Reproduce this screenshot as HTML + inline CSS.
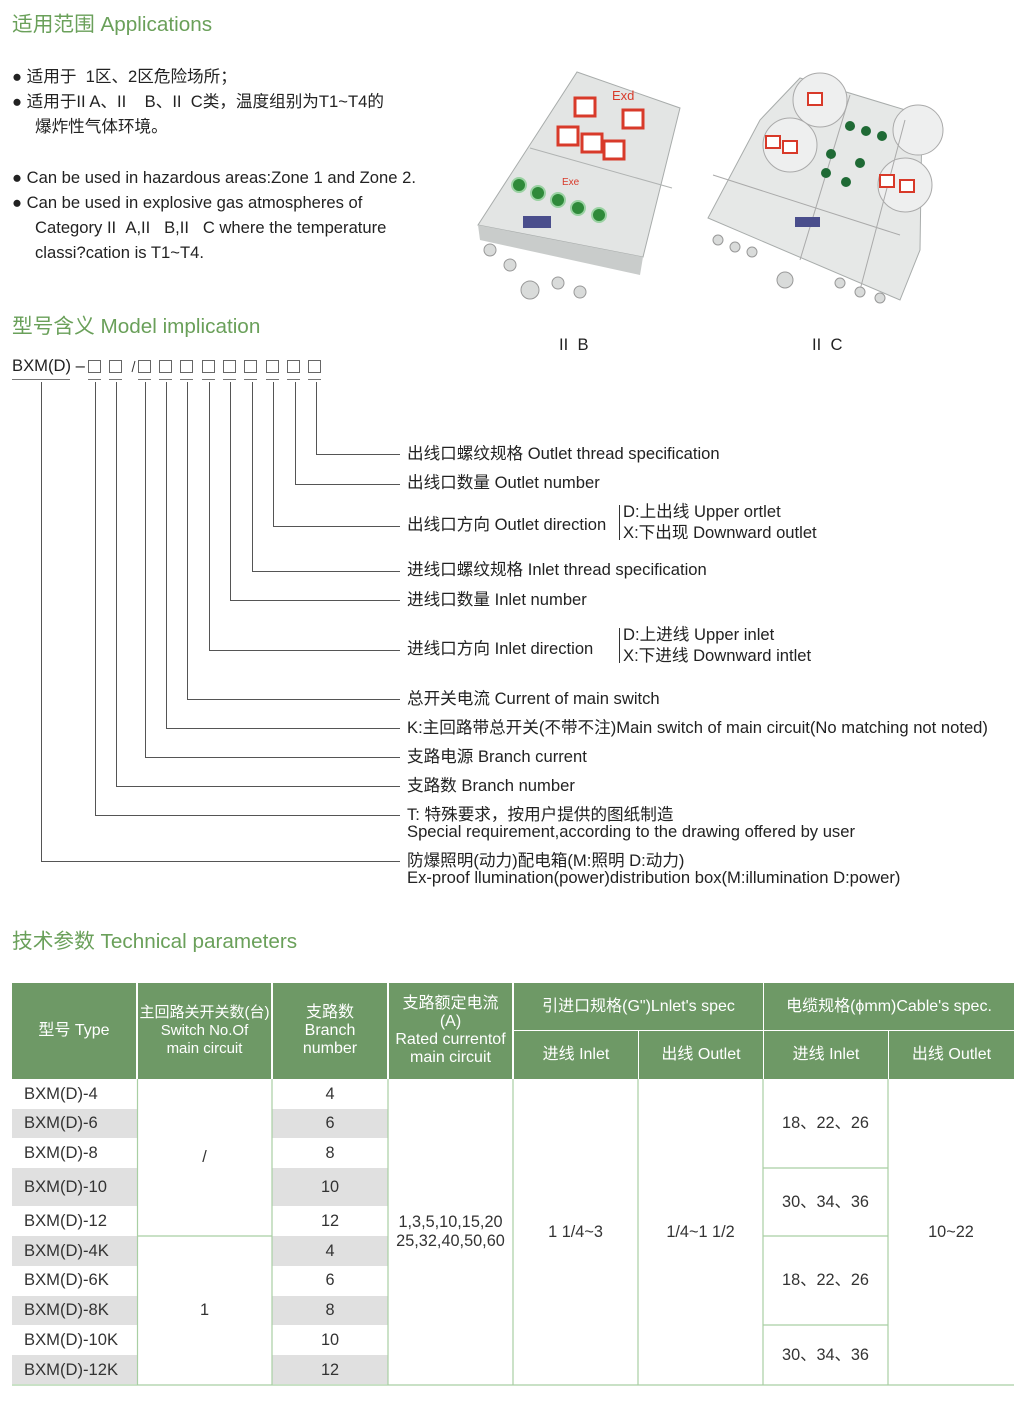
<!DOCTYPE html>
<html><head><meta charset="utf-8"><style>
body{margin:0;background:#fff;}
#p{position:relative;width:1024px;height:1405px;overflow:hidden;font-family:"Liberation Sans","Noto Sans CJK SC",sans-serif;color:#222;}
.t{position:absolute;white-space:nowrap;font-size:16.6px;line-height:18px;}
.h{position:absolute;font-size:20.7px;color:#6aa05a;white-space:nowrap;line-height:24px;}
.c{position:absolute;text-align:center;font-size:16.3px;line-height:19px;color:#333;}
.hd{position:absolute;background:#6e9966;color:#fff;text-align:center;display:flex;align-items:center;justify-content:center;font-size:16px;line-height:18px;}
</style></head><body><div id="p">

<div class="h" style="left:12px;top:13px">适用范围 Applications</div>
<div class="t" style="left:12px;top:68px">● 适用于 &nbsp;1区、2区危险场所；</div>
<div class="t" style="left:12px;top:93px">● 适用于II A、II &nbsp;&nbsp;&nbsp;B、II &nbsp;C类，温度组别为T1~T4的</div>
<div class="t" style="left:35px;top:118px">爆炸性气体环境。</div>
<div class="t" style="left:12px;top:169px">● Can be used in hazardous areas:Zone 1 and Zone 2.</div>
<div class="t" style="left:12px;top:194px">● Can be used in explosive gas atmospheres of</div>
<div class="t" style="left:35px;top:219px">Category II &nbsp;A,II &nbsp;&nbsp;B,II &nbsp;&nbsp;C where the temperature</div>
<div class="t" style="left:35px;top:244px">classi?cation is T1~T4.</div>

<svg style="position:absolute;left:0;top:0" width="1024" height="400">
 <polygon points="577,72 680,108 643,257 478,225" fill="#e3e5e4" stroke="#a8acab"/>
 <polygon points="478,225 643,257 640,275 480,240" fill="#c9cccb"/>
 <line x1="530" y1="148" x2="672" y2="188" stroke="#b0b3b2"/>
 <g fill="#fff" stroke="#d83a2a" stroke-width="3">
  <rect x="575" y="98" width="20" height="18"/><rect x="623" y="110" width="20" height="18"/>
  <rect x="558" y="127" width="20" height="18"/><rect x="582" y="134" width="20" height="18"/><rect x="604" y="141" width="20" height="18"/>
 </g>
 <text x="612" y="100" fill="#d83a2a" font-size="13" font-family="Liberation Sans">Exd</text>
 <text x="562" y="185" fill="#d83a2a" font-size="10" font-family="Liberation Sans">Exe</text>
 <g fill="#2f8a3a" stroke="#9ad2a2" stroke-width="2">
  <circle cx="519" cy="185" r="7"/><circle cx="538" cy="193" r="7"/><circle cx="558" cy="200" r="7"/><circle cx="578" cy="208" r="7"/><circle cx="599" cy="215" r="7"/>
 </g>
 <rect x="523" y="216" width="28" height="12" fill="#4a4e8c"/>
 <g fill="#d9dbda" stroke="#999"><circle cx="490" cy="250" r="6"/><circle cx="510" cy="265" r="6"/><circle cx="530" cy="290" r="9"/><circle cx="558" cy="283" r="6"/><circle cx="580" cy="292" r="6"/></g>
 <polygon points="800,78 922,115 920,250 900,300 708,218 760,120" fill="#e6e8e7" stroke="#a8acab"/>
 <g fill="#eeefef" stroke="#aaa"><circle cx="820" cy="100" r="27"/><circle cx="790" cy="145" r="27"/><circle cx="918" cy="130" r="25"/><circle cx="905" cy="185" r="27"/></g>
 <line x1="713" y1="175" x2="900" y2="235" stroke="#aaa"/><line x1="850" y1="95" x2="800" y2="260" stroke="#aaa"/><line x1="905" y1="120" x2="860" y2="290" stroke="#aaa"/>
 <g fill="#fff" stroke="#d83a2a" stroke-width="2"><rect x="808" y="93" width="14" height="12"/><rect x="766" y="136" width="14" height="12"/><rect x="783" y="141" width="14" height="12"/><rect x="880" y="175" width="14" height="12"/><rect x="900" y="180" width="14" height="12"/></g>
 <g fill="#1f6a35"><circle cx="850" cy="126" r="5"/><circle cx="866" cy="131" r="5"/><circle cx="882" cy="136" r="5"/><circle cx="831" cy="154" r="5"/><circle cx="860" cy="163" r="5"/><circle cx="826" cy="173" r="5"/><circle cx="846" cy="182" r="5"/></g>
 <rect x="795" y="217" width="25" height="10" fill="#4a4e8c"/>
 <g fill="#d9dbda" stroke="#999"><circle cx="718" cy="240" r="5"/><circle cx="735" cy="247" r="5"/><circle cx="752" cy="252" r="5"/><circle cx="785" cy="280" r="8"/><circle cx="840" cy="283" r="5"/><circle cx="860" cy="292" r="5"/><circle cx="880" cy="298" r="5"/></g>
</svg>
<div class="t" style="left:559px;top:336px">II &nbsp;B</div>
<div class="t" style="left:812px;top:336px">II &nbsp;C</div>

<div class="h" style="left:12px;top:315px">型号含义 Model implication</div>
<div class="t" style="left:12px;top:357px">BXM(D) –</div>
<svg style="position:absolute;left:0;top:0" width="1024" height="900" fill="none" stroke="#555" stroke-width="1">
 <g stroke="#666"><rect x="88.5" y="360.5" width="12" height="12"/><rect x="109.5" y="360.5" width="12" height="12"/>
 <rect x="138.5" y="360.5" width="12" height="12"/><rect x="159.5" y="360.5" width="12" height="12"/><rect x="180.5" y="360.5" width="12" height="12"/><rect x="202.5" y="360.5" width="12" height="12"/><rect x="223.5" y="360.5" width="12" height="12"/><rect x="244.5" y="360.5" width="12" height="12"/><rect x="266.5" y="360.5" width="12" height="12"/><rect x="287.5" y="360.5" width="12" height="12"/><rect x="308.5" y="360.5" width="12" height="12"/></g>
 <line x1="132" y1="372" x2="135" y2="361" stroke="#333"/>
 <g stroke="#777"><line x1="12" y1="379.5" x2="70" y2="379.5"/>
 <line x1="88" y1="379.5" x2="101" y2="379.5"/><line x1="109" y1="379.5" x2="122" y2="379.5"/><line x1="138" y1="379.5" x2="151" y2="379.5"/><line x1="159" y1="379.5" x2="172" y2="379.5"/><line x1="180" y1="379.5" x2="193" y2="379.5"/><line x1="202" y1="379.5" x2="215" y2="379.5"/><line x1="223" y1="379.5" x2="236" y2="379.5"/><line x1="244" y1="379.5" x2="257" y2="379.5"/><line x1="266" y1="379.5" x2="279" y2="379.5"/><line x1="287" y1="379.5" x2="300" y2="379.5"/><line x1="308" y1="379.5" x2="321" y2="379.5"/></g>
 <polyline points="316.5,382 316.5,454.5 400,454.5"/>
 <polyline points="295.5,382 295.5,484.5 400,484.5"/>
 <polyline points="273.5,382 273.5,526.5 400,526.5"/>
 <polyline points="252.5,382 252.5,571.5 400,571.5"/>
 <polyline points="230.5,382 230.5,600.5 400,600.5"/>
 <polyline points="209.5,382 209.5,650.5 400,650.5"/>
 <polyline points="187.5,382 187.5,699.5 400,699.5"/>
 <polyline points="166.5,382 166.5,728.5 400,728.5"/>
 <polyline points="145.5,382 145.5,757.5 400,757.5"/>
 <polyline points="116.5,382 116.5,786.5 400,786.5"/>
 <polyline points="95.5,382 95.5,815.5 400,815.5"/>
 <polyline points="41.5,382 41.5,861.5 400,861.5"/>
 <line x1="619.5" y1="505" x2="619.5" y2="540" stroke="#333"/>
 <line x1="619.5" y1="628" x2="619.5" y2="663" stroke="#333"/>
</svg>
<div class="t" style="left:407px;top:445px">出线口螺纹规格 Outlet thread specification</div>
<div class="t" style="left:407px;top:474px">出线口数量 Outlet number</div>
<div class="t" style="left:407px;top:516px">出线口方向 Outlet direction</div>
<div class="t" style="left:623px;top:503px">D:上出线 Upper ortlet</div>
<div class="t" style="left:623px;top:524px">X:下出现 Downward outlet</div>
<div class="t" style="left:407px;top:561px">进线口螺纹规格 Inlet thread specification</div>
<div class="t" style="left:407px;top:591px">进线口数量 Inlet number</div>
<div class="t" style="left:407px;top:640px">进线口方向 Inlet direction</div>
<div class="t" style="left:623px;top:626px">D:上进线 Upper inlet</div>
<div class="t" style="left:623px;top:647px">X:下进线 Downward intlet</div>
<div class="t" style="left:407px;top:690px">总开关电流 Current of main switch</div>
<div class="t" style="left:407px;top:719px">K:主回路带总开关(不带不注)Main switch of main circuit(No matching not noted)</div>
<div class="t" style="left:407px;top:748px">支路电源 Branch current</div>
<div class="t" style="left:407px;top:777px">支路数 Branch number</div>
<div class="t" style="left:407px;top:806px">T: 特殊要求，按用户提供的图纸制造</div>
<div class="t" style="left:407px;top:823px">Special requirement,according to the drawing offered by user</div>
<div class="t" style="left:407px;top:852px">防爆照明(动力)配电箱(M:照明 D:动力)</div>
<div class="t" style="left:407px;top:869px">Ex-proof llumination(power)distribution box(M:illumination D:power)</div>

<div class="h" style="left:12px;top:930px">技术参数 Technical parameters</div>

<div class="hd" style="left:12px;top:983px;width:124px;height:96px">型号 Type</div>
<div class="hd" style="left:138px;top:983px;width:133px;height:96px;font-size:15px">主回路关开关数(台)<br>Switch No.Of<br>main circuit</div>
<div class="hd" style="left:273px;top:983px;width:114px;height:96px">支路数<br>Branch<br>number</div>
<div class="hd" style="left:389px;top:983px;width:123px;height:96px">支路额定电流<br>(A)<br>Rated currentof<br>main circuit</div>
<div class="hd" style="left:514px;top:983px;width:249px;height:47px">引进口规格(G")Lnlet's spec</div>
<div class="hd" style="left:764px;top:983px;width:250px;height:47px">电缆规格(ϕmm)Cable's spec.</div>
<div class="hd" style="left:514px;top:1031px;width:124px;height:48px">进线 Inlet</div>
<div class="hd" style="left:639px;top:1031px;width:124px;height:48px">出线 Outlet</div>
<div class="hd" style="left:764px;top:1031px;width:124px;height:48px">进线 Inlet</div>
<div class="hd" style="left:889px;top:1031px;width:125px;height:48px">出线 Outlet</div>

<svg style="position:absolute;left:0;top:0" width="1024" height="1405">
 <g fill="#e0e0e0">
  <rect x="12" y="1109" width="125" height="29"/><rect x="272" y="1109" width="116" height="29"/>
  <rect x="12" y="1168" width="125" height="38"/><rect x="272" y="1168" width="116" height="38"/>
  <rect x="12" y="1236" width="125" height="30"/><rect x="272" y="1236" width="116" height="30"/>
  <rect x="12" y="1296" width="125" height="29"/><rect x="272" y="1296" width="116" height="29"/>
  <rect x="12" y="1355" width="125" height="29"/><rect x="272" y="1355" width="116" height="29"/>
 </g>
 <g stroke="#a9cfa3" stroke-width="1.2">
  <line x1="137.5" y1="1079" x2="137.5" y2="1385"/><line x1="272" y1="1079" x2="272" y2="1385"/><line x1="388" y1="1079" x2="388" y2="1385"/>
  <line x1="513" y1="1079" x2="513" y2="1385"/><line x1="638" y1="1079" x2="638" y2="1385"/><line x1="763" y1="1079" x2="763" y2="1385"/><line x1="888" y1="1079" x2="888" y2="1385"/>
  <line x1="137" y1="1236" x2="272" y2="1236"/>
  <line x1="763" y1="1168" x2="888" y2="1168"/><line x1="763" y1="1236" x2="888" y2="1236"/><line x1="763" y1="1325" x2="888" y2="1325"/>
  <line x1="12" y1="1385" x2="1014" y2="1385"/>
 </g>
</svg>
<div class="t" style="left:24px;top:1085px;color:#333">BXM(D)-4</div>
<div class="t" style="left:24px;top:1114px;color:#333">BXM(D)-6</div>
<div class="t" style="left:24px;top:1144px;color:#333">BXM(D)-8</div>
<div class="t" style="left:24px;top:1178px;color:#333">BXM(D)-10</div>
<div class="t" style="left:24px;top:1212px;color:#333">BXM(D)-12</div>
<div class="t" style="left:24px;top:1242px;color:#333">BXM(D)-4K</div>
<div class="t" style="left:24px;top:1271px;color:#333">BXM(D)-6K</div>
<div class="t" style="left:24px;top:1301px;color:#333">BXM(D)-8K</div>
<div class="t" style="left:24px;top:1331px;color:#333">BXM(D)-10K</div>
<div class="t" style="left:24px;top:1361px;color:#333">BXM(D)-12K</div>
<div class="c" style="left:272px;width:116px;top:1085px">4</div>
<div class="c" style="left:272px;width:116px;top:1114px">6</div>
<div class="c" style="left:272px;width:116px;top:1144px">8</div>
<div class="c" style="left:272px;width:116px;top:1178px">10</div>
<div class="c" style="left:272px;width:116px;top:1212px">12</div>
<div class="c" style="left:272px;width:116px;top:1242px">4</div>
<div class="c" style="left:272px;width:116px;top:1271px">6</div>
<div class="c" style="left:272px;width:116px;top:1301px">8</div>
<div class="c" style="left:272px;width:116px;top:1331px">10</div>
<div class="c" style="left:272px;width:116px;top:1361px">12</div>
<div class="c" style="left:137px;width:135px;top:1148px">/</div>
<div class="c" style="left:137px;width:135px;top:1301px">1</div>
<div class="c" style="left:388px;width:125px;top:1213px">1,3,5,10,15,20<br>25,32,40,50,60</div>
<div class="c" style="left:513px;width:125px;top:1223px">1 1/4~3</div>
<div class="c" style="left:638px;width:125px;top:1223px">1/4~1 1/2</div>
<div class="c" style="left:763px;width:125px;top:1114px">18、22、26</div>
<div class="c" style="left:763px;width:125px;top:1193px">30、34、36</div>
<div class="c" style="left:763px;width:125px;top:1271px">18、22、26</div>
<div class="c" style="left:763px;width:125px;top:1346px">30、34、36</div>
<div class="c" style="left:888px;width:126px;top:1223px">10~22</div>
</div></body></html>
